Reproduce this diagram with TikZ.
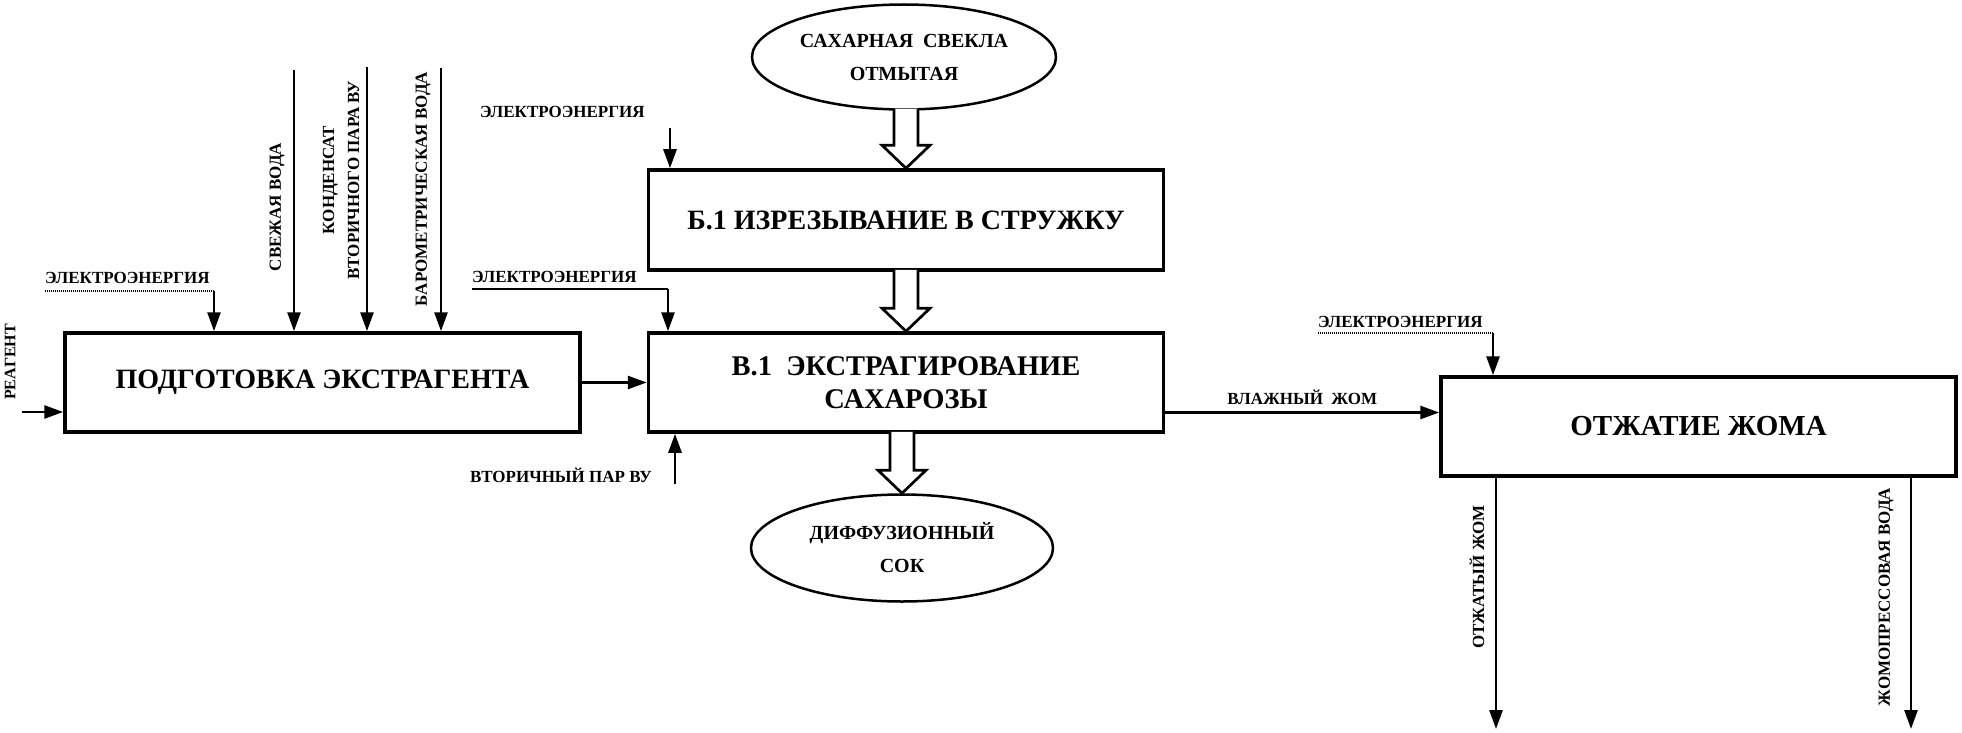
\documentclass[tikz,border=0pt]{standalone}
\usepackage{fontspec}
\setmainfont{Liberation Serif}
\usetikzlibrary{arrows.meta,calc,shapes.geometric}

\tikzset{
	stage/.style={draw, line width=3.5pt, minimum width=515pt, minimum height=99pt, align=center, inner sep=0pt},
	stream/.style={draw, ellipse, line width=2.5pt, minimum width=304pt, minimum height=105pt, align=center, inner sep=0pt, font=\bfseries\fontsize{20}{33}\selectfont},
	flow/.style={-{Triangle[length=19pt,width=13pt]}, line width=2.7pt},
	lbl/.style={inner sep=0pt, font=\bfseries\fontsize{17}{25}\selectfont},
	under/.style={line width=1.2pt, dash pattern=on 1pt off 1pt},
	hollow/.style={line width=2.7pt, fill=white, line join=miter}
}

% wide arrow for the product stream
\newcommand{\bigflow}[2]{%
	\draw[hollow] let \p1=(#1), \p2=(#2) in
		(\x2-12pt,\y1+2pt) -- (\x2-12pt,\y2+23pt) -- (\x2-24pt,\y2+23pt) -- (\x2,\y2)
		-- (\x2+24pt,\y2+23pt) -- (\x2+12pt,\y2+23pt) -- (\x2+12pt,\y1+2pt);
}

\begin{document}
\begin{tikzpicture}[x=1pt, y=-1pt]
	\useasboundingbox (0,0) rectangle (1962,733);

	% Draw the stages
	\node[stage, font=\bfseries\fontsize{28}{33}\selectfont] (prep) at (322.5,382.5) {ПОДГОТОВКА ЭКСТРАГЕНТА};
	\node[stage, minimum height=100pt, font=\bfseries\fontsize{28}{33}\selectfont] (cut) at (906,220) {Б.1 ИЗРЕЗЫВАНИЕ В СТРУЖКУ};
	\node[stage, font=\bfseries\fontsize{28.5}{33}\selectfont] (extr) at (906,382.5) {В.1~~ЭКСТРАГИРОВАНИЕ\\САХАРОЗЫ};
	\node[stage, font=\bfseries\fontsize{29}{33}\selectfont] (press) at (1698.5,426.5) {ОТЖАТИЕ ЖОМА};

	% Draw the product streams
	\node[stream] (beet) at (904,57) {САХАРНАЯ~~СВЕКЛА\\ОТМЫТАЯ};
	\node[stream, minimum width=302pt, minimum height=107pt] (juice) at (902,548) {ДИФФУЗИОННЫЙ\\СОК};

	\bigflow{beet.south}{cut.north}
	\bigflow{cut.south}{extr.north}
	\bigflow{extr.south}{juice.north}

	% Inputs of the extractant preparation
	\node[lbl, rotate=90, font=\bfseries\fontsize{16}{20}\selectfont] (reag) at (10,362) {РЕАГЕНТ};
	\coordinate (reagIn) at (22,412);
	\draw[flow] (reagIn) -- (reagIn -| prep.west);

	\node[lbl, anchor=west] (elPrep) at (45,278) {ЭЛЕКТРОЭНЕРГИЯ};
	\coordinate (elPrepIn) at (214,291);
	\draw[under] (elPrep.west |- elPrepIn) -- (elPrepIn);
	\draw[flow] (elPrepIn) -- (elPrepIn |- prep.north);

	\node[lbl, rotate=90] (water) at (277,207) {СВЕЖАЯ ВОДА};
	\coordinate (waterIn) at (294,70);
	\draw[flow] (waterIn) -- (waterIn |- prep.north);

	\node[lbl, rotate=90, align=center] (cond) at (341,180) {КОНДЕНСАТ\\ВТОРИЧНОГО ПАРА ВУ};
	\coordinate (condIn) at (367,67);
	\draw[flow] (condIn) -- (condIn |- prep.north);

	\node[lbl, rotate=90] (baro) at (423,189) {БАРОМЕТРИЧЕСКАЯ ВОДА};
	\coordinate (baroIn) at (441,68);
	\draw[flow] (baroIn) -- (baroIn |- prep.north);

	\draw[flow] (prep.east) -- (extr.west);

	% Inputs of the cutting and extraction
	\node[lbl, anchor=west] (elCut) at (480,112) {ЭЛЕКТРОЭНЕРГИЯ};
	\coordinate (elCutIn) at (670,128);
	\draw[flow] (elCutIn) -- (elCutIn |- cut.north);

	\node[lbl, anchor=west] (elExtr) at (472,277) {ЭЛЕКТРОЭНЕРГИЯ};
	\coordinate (elExtrIn) at (668,289);
	\draw[line width=1.2pt] (elExtr.west |- elExtrIn) -- (elExtrIn);
	\draw[flow] (elExtrIn) -- (elExtrIn |- extr.north);

	\node[lbl, anchor=west] (steam) at (470,475) {ВТОРИЧНЫЙ ПАР ВУ};
	\coordinate (steamIn) at (675,484);
	\draw[flow] (steamIn) -- (steamIn |- extr.south);

	% Pulp pressing
	\draw[flow] ([yshift=-30pt]extr.east) -- ([yshift=-30pt]extr.east -| press.west)
		node[midway, above=6pt, lbl] {ВЛАЖНЫЙ~~ЖОМ};

	\node[lbl, anchor=west] (elPress) at (1318,322) {ЭЛЕКТРОЭНЕРГИЯ};
	\coordinate (elPressIn) at (1493,333);
	\draw[under] (elPress.west |- elPressIn) -- (elPressIn);
	\draw[flow] (elPressIn) -- (elPressIn |- press.north);

	\node[lbl, rotate=90] (pulp) at (1477,577) {ОТЖАТЫЙ ЖОМ};
	\coordinate (pulpOut) at (1496,729);
	\draw[flow] (pulpOut |- press.south) -- (pulpOut);

	\node[lbl, rotate=90] (pwater) at (1886,597) {ЖОМОПРЕССОВАЯ ВОДА};
	\coordinate (pwaterOut) at (1911,729);
	\draw[flow] (pwaterOut |- press.south) -- (pwaterOut);

\end{tikzpicture}
\end{document}
